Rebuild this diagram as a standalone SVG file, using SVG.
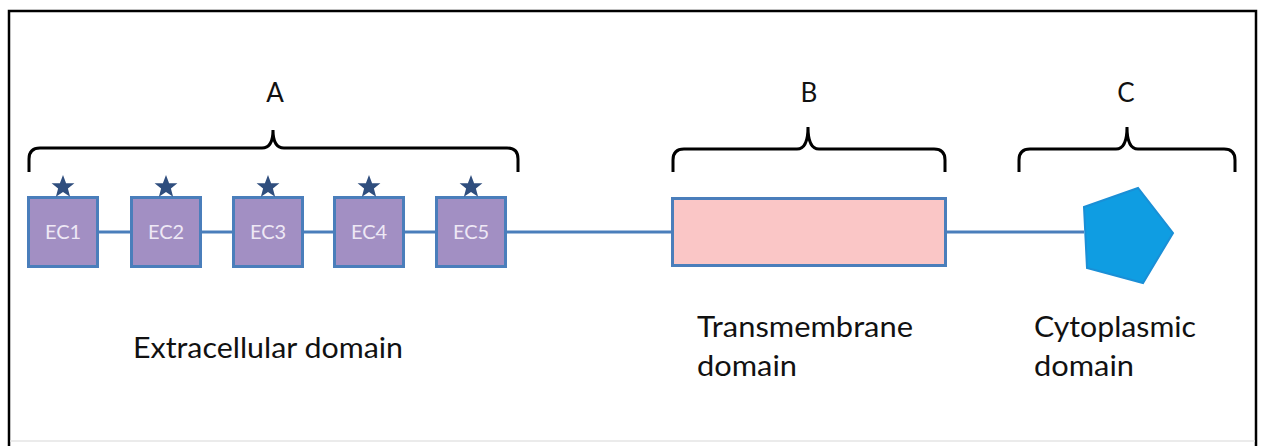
<svg xmlns="http://www.w3.org/2000/svg" width="1264" height="446" viewBox="0 0 1264 446">
<style>
.ec{fill:#A28FC3;stroke:#4A7EBB;stroke-width:3}
.ect{font-family:Lato,"Open Sans",sans-serif;font-size:20px;fill:#EEE8F5;text-anchor:middle}
.lbl{font-family:Lato,"Open Sans",sans-serif;font-size:29px;fill:#111}
.hdr{font-family:Lato,"Open Sans",sans-serif;font-size:26px;fill:#111;text-anchor:middle}
.br{fill:none;stroke:#000;stroke-width:3}
.ln{stroke:#4A7EBB;stroke-width:3;fill:none}
.star{fill:#2F4E7E}
</style>
<defs>
<polygon id="st" points="0,-12 3.1,-3.8 11.4,-3.7 4.9,1.6 7.1,9.7 0,4.9 -7.1,9.7 -4.9,1.6 -11.4,-3.7 -3.1,-3.8"/>
</defs>
<rect x="0" y="0" width="1264" height="446" fill="#fff"/>
<path d="M9,446 V11 H1256 V446" fill="none" stroke="#000" stroke-width="2.5"/>
<line x1="10" y1="441" x2="1255" y2="441" stroke="#e4e4e4" stroke-width="1.5"/>

<g id="connectors">
<line class="ln" x1="98" y1="232" x2="131" y2="232"/>
<line class="ln" x1="201" y1="232" x2="233" y2="232"/>
<line class="ln" x1="303" y1="232" x2="334" y2="232"/>
<line class="ln" x1="404" y1="232" x2="436" y2="232"/>
<line class="ln" x1="506" y1="232" x2="672" y2="232"/>
<line class="ln" x1="946" y1="232" x2="1084" y2="232"/>
</g>

<g id="braceA">
<path class="br" d="M29,172 V159 Q29,148 40,148 H262 Q273,148 273,130 Q273,148 284,148 H507 Q518,148 518,159 V172"/>
<text class="hdr" x="275" y="102">A</text>
</g>
<g id="braceB">
<path class="br" d="M673,172 V160 Q673,149 684,149 H797 Q808,149 808,127 Q808,149 819,149 H934 Q945,149 945,160 V172"/>
<text class="hdr" x="809" y="102">B</text>
</g>
<g id="braceC">
<path class="br" d="M1019,172 V160 Q1019,149 1030,149 H1116 Q1127,149 1127,127 Q1127,149 1138,149 H1224 Q1235,149 1235,160 V172"/>
<text class="hdr" x="1126" y="102">C</text>
</g>

<g id="EC1"><rect class="ec" x="28.5" y="197.5" width="69" height="69"/><use href="#st" class="star" x="63" y="187"/><text class="ect" x="63" y="239">EC1</text></g>
<g id="EC2"><rect class="ec" x="131.5" y="197.5" width="69" height="69"/><use href="#st" class="star" x="166" y="187"/><text class="ect" x="166" y="239">EC2</text></g>
<g id="EC3"><rect class="ec" x="233.5" y="197.5" width="69" height="69"/><use href="#st" class="star" x="268" y="187"/><text class="ect" x="268" y="239">EC3</text></g>
<g id="EC4"><rect class="ec" x="334.5" y="197.5" width="69" height="69"/><use href="#st" class="star" x="369" y="187"/><text class="ect" x="369" y="239">EC4</text></g>
<g id="EC5"><rect class="ec" x="436.5" y="197.5" width="69" height="69"/><use href="#st" class="star" x="471" y="187"/><text class="ect" x="471" y="239">EC5</text></g>

<g id="transmembrane">
<rect x="672.5" y="198.5" width="273" height="67" fill="#FAC6C6" stroke="#4A7EBB" stroke-width="3"/>
</g>
<g id="cytoplasmic">
<polygon points="1084,207 1138,188 1173,233 1143,283 1087,268" fill="#0F9DE2" stroke="#1A8FD6" stroke-width="2"/>
</g>

<g id="labels">
<text class="lbl" x="133" y="358" textLength="270" lengthAdjust="spacingAndGlyphs">Extracellular domain</text>
<text class="lbl" x="697" y="337" textLength="216" lengthAdjust="spacingAndGlyphs">Transmembrane</text>
<text class="lbl" x="697" y="376" textLength="100" lengthAdjust="spacingAndGlyphs">domain</text>
<text class="lbl" x="1034" y="337" textLength="162" lengthAdjust="spacingAndGlyphs">Cytoplasmic</text>
<text class="lbl" x="1034" y="376" textLength="100" lengthAdjust="spacingAndGlyphs">domain</text>
</g>
</svg>
